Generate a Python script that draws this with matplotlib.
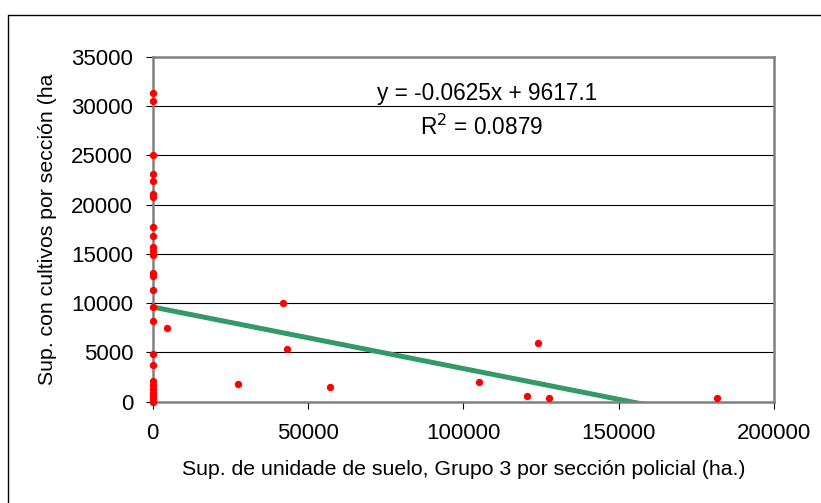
# scatter of cultivated surface vs soil unit surface, with linear trend

import matplotlib.pyplot as plt
from matplotlib.lines import Line2D

plt.rcParams['font.family'] = ['Liberation Sans', 'DejaVu Sans']

# points sitting on the y axis (x ~ 0)
xZero = [0] * 27
yZero = [31300, 30500, 25100, 23100, 22400, 21100, 20800, 17700, 16800,
         15700, 15300, 14900, 13100, 12800, 11300, 9600, 8200, 4850, 3750,
         2100, 1700, 1300, 900, 600, 300, 100, 0]

# the rest of the sections
xOther = [4700, 27400, 42000, 43400, 57200, 104900, 120500, 124200, 127700, 181800]
yOther = [7500, 1750, 10000, 5400, 1500, 2050, 600, 6000, 420, 420]

slope = -0.0625
intercept = 9617.1
rSquared = 0.0879

xTicks = [0, 50000, 100000, 150000, 200000]
yTicks = list(range(0, 35001, 5000))


fig = plt.figure(figsize=(8.21, 5.03), dpi=100)
W, H = 821, 503
ax = fig.add_axes([152.6 / W, 1 - 401.7 / H, (774 - 152.6) / W, (401.7 - 57) / H])

# outer chart frame, only top and left edges fall inside the picture
fig.lines.append(Line2D([8 / W, 8 / W, 1], [0, 1 - 15 / H, 1 - 15 / H],
                        transform=fig.transFigure, color='black', linewidth=1.0))

xs = xZero + xOther
ys = yZero + yOther

ax.plot([0, max(xs)], [intercept, intercept + slope * max(xs)],
        color='#339966', linewidth=3.6, zorder=2, solid_capstyle='butt')
ax.scatter(xs, ys, s=28, color='red', zorder=3, clip_on=False, linewidths=0)

ax.set_xlim(0, 200000)
ax.set_ylim(0, 35000)
ax.set_xticks(xTicks)
ax.set_yticks(yTicks)
ax.yaxis.grid(True, color='black', linewidth=0.8)
ax.set_axisbelow(True)

for s in ax.spines.values():
    s.set_color('#808080')
    s.set_linewidth(1.8)

ax.tick_params(direction='out', length=5, width=0.8, color='black',
               labelsize=16)
ax.tick_params(axis='y', pad=9)
ax.tick_params(axis='x', pad=10)

ax.set_xlabel('Sup. de unidade de suelo, Grupo 3 por sección policial (ha.)',
              fontsize=15.3, labelpad=12)
ax.set_ylabel('Sup. con cultivos por sección (ha', fontsize=15.3, labelpad=10)

ax.text(0.539, 0.895, 'y = -0.0625x + 9617.1', transform=ax.transAxes,
        ha='center', va='center', fontsize=16.3)
ax.text(0.529, 0.796, 'R$^2$ = ' + str(rSquared), transform=ax.transAxes,
        ha='center', va='center', fontsize=16.3)

fig.savefig('out.png', dpi=100)
